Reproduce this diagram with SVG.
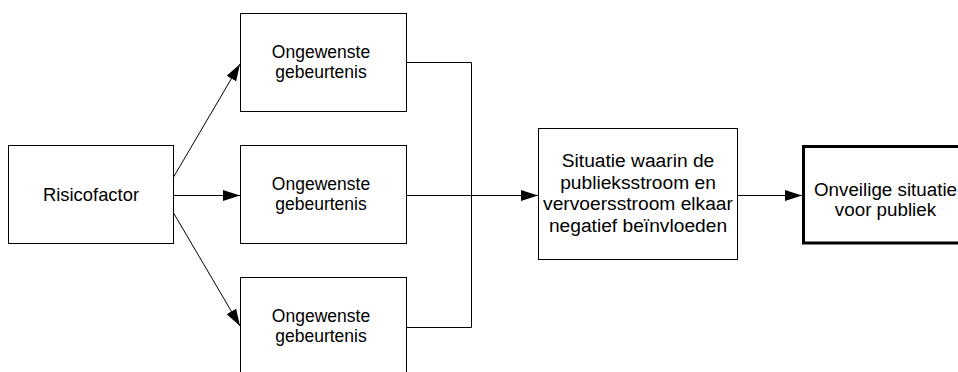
<svg xmlns="http://www.w3.org/2000/svg" width="958" height="372" viewBox="0 0 958 372">
<style>
.box{fill:#fff;stroke:#000;stroke-width:1}
.thick{fill:#fff;stroke:#000;stroke-width:3}
.t{font-family:"Liberation Sans",Arial,sans-serif;font-size:18px;fill:#000;text-anchor:middle}
.g{font-size:17.5px}
.r{font-size:18.4px}
.s{font-size:19.2px}
.o{font-size:18.8px}
.c{fill:none;stroke:#000;stroke-width:1}
</style>
<defs>
<marker id="arr" viewBox="0 0 17 11" refX="17" refY="5.5" markerWidth="17" markerHeight="11" markerUnits="userSpaceOnUse" orient="auto">
<path d="M0,0 L17,5.5 L0,11 Z" fill="#000"/>
</marker>
</defs>
<g id="connectors">
<line class="c" x1="173" y1="178" x2="240" y2="64" marker-end="url(#arr)"/>
<line class="c" x1="173.5" y1="195.5" x2="240" y2="195.5" marker-end="url(#arr)"/>
<line class="c" x1="173" y1="212" x2="240" y2="326" marker-end="url(#arr)"/>
<polyline class="c" points="406,62.5 471.5,62.5 471.5,327.5 406,327.5"/>
<line class="c" x1="406" y1="195.5" x2="538" y2="195.5" marker-end="url(#arr)"/>
<line class="c" x1="737" y1="195.5" x2="802" y2="195.5" marker-end="url(#arr)"/>
</g>
<g id="risicofactor">
<rect class="box" x="8.5" y="145.5" width="165" height="98"/>
<text class="t r" x="91" y="201">Risicofactor</text>
</g>
<g id="gebeurtenis1">
<rect class="box" x="240.5" y="13.5" width="166" height="98"/>
<text class="t g" x="321" y="57.5">Ongewenste</text>
<text class="t g" x="321" y="77.5">gebeurtenis</text>
</g>
<g id="gebeurtenis2">
<rect class="box" x="240.5" y="145.5" width="166" height="98"/>
<text class="t g" x="321" y="190">Ongewenste</text>
<text class="t g" x="321" y="210">gebeurtenis</text>
</g>
<g id="gebeurtenis3">
<rect class="box" x="240.5" y="277.5" width="166" height="98"/>
<text class="t g" x="321" y="322">Ongewenste</text>
<text class="t g" x="321" y="342">gebeurtenis</text>
</g>
<g id="situatie">
<rect class="box" x="538.5" y="128.5" width="199" height="131"/>
<text class="t s" x="638" y="167">Situatie waarin de</text>
<text class="t s" x="638" y="188.5">publieksstroom en</text>
<text class="t s" x="638" y="210">vervoersstroom elkaar</text>
<text class="t s" x="638" y="231.5">negatief beïnvloeden</text>
</g>
<g id="onveilig">
<rect class="thick" x="803.5" y="146.5" width="164" height="96.5"/>
<text class="t o" x="885.5" y="196">Onveilige situatie</text>
<text class="t o" x="885.5" y="216">voor publiek</text>
</g>
</svg>
